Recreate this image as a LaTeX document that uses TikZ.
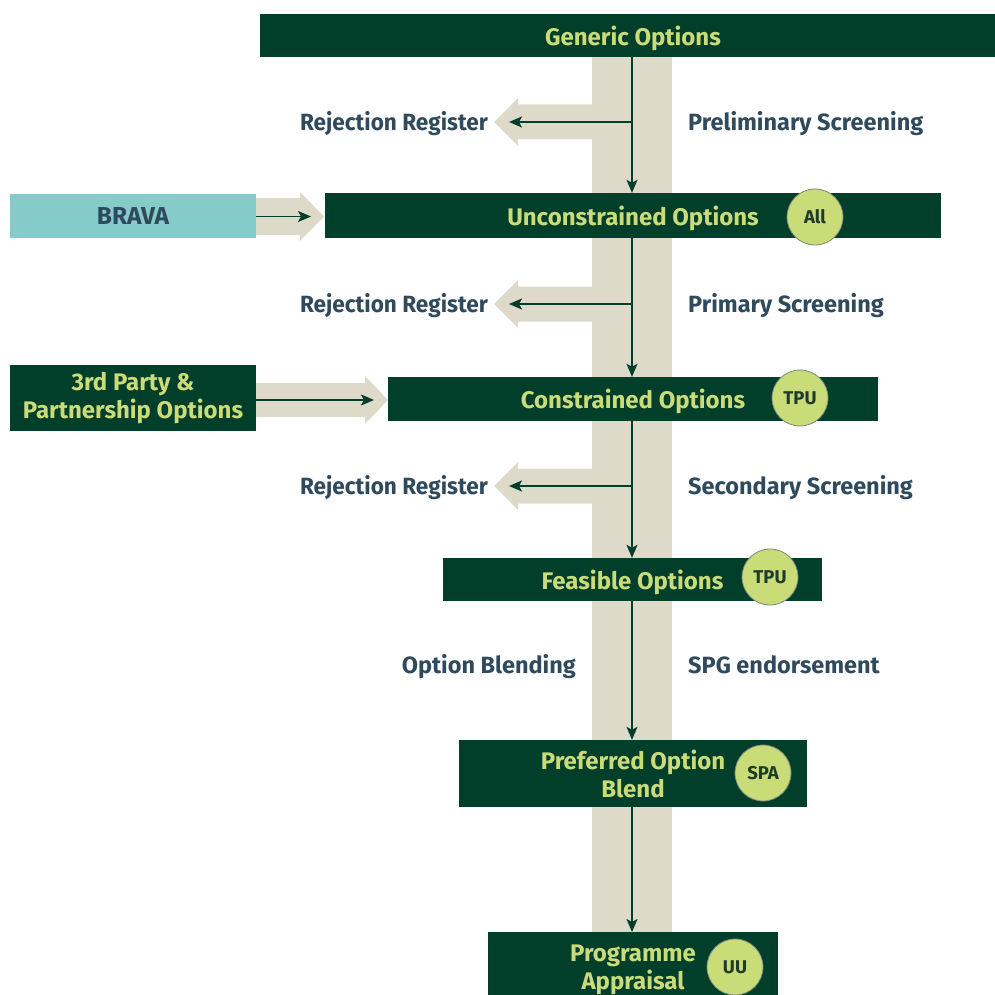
\documentclass[tikz,border=0pt]{standalone}
\usepackage{fontspec}
\setmainfont{Fira Sans}
\usetikzlibrary{arrows.meta}
\definecolor{dkgreen}{HTML}{013F2A}
\definecolor{boxtxt}{HTML}{CBDB7A}
\definecolor{lbltxt}{HTML}{2E4A5C}
\definecolor{beige}{HTML}{DEDACA}
\definecolor{teal}{HTML}{84CBCA}
\definecolor{circfill}{HTML}{C9DC77}
\definecolor{circtxt}{HTML}{1F3B2A}
\tikzset{
  stagebox/.style={rectangle, fill=dkgreen, text=boxtxt, inner sep=0pt, align=center, font=\bfseries\fontsize{24}{28}\selectfont},
  onerow/.style={text depth=0pt},
  badge/.style={circle, fill=circfill, draw=circtxt!60, line width=0.8pt, minimum size=56pt, inner sep=0pt, text=circtxt, font=\bfseries\fontsize{18.5}{18}\selectfont},
  lbl/.style={text=lbltxt, inner sep=0pt, font=\bfseries\fontsize{23.5}{24}\selectfont},
  flow/.style={draw=dkgreen, line width=1.6pt, -{Stealth[length=13pt,width=11pt,inset=3pt]}},
  band/.style={fill=beige, draw=none}
}
\begin{document}
\begin{tikzpicture}[x=1pt,y=-1pt]
\useasboundingbox (0,0) rectangle (994,995);
% beige band and beige arrows
\fill[band] (592,57) rectangle (672,932);
\foreach \yy in {122,304,486}{
  \fill[band] (592,\yy-17.5) -- (518,\yy-17.5) -- (518,\yy-24) -- (494,\yy) -- (518,\yy+24) -- (518,\yy+17.5) -- (592,\yy+17.5) -- cycle;
}
\fill[band] (256,198) -- (300,198) -- (300,192) -- (324,216.5) -- (300,241) -- (300,235) -- (256,235) -- cycle;
\fill[band] (256,383) -- (365,383) -- (365,376) -- (388,400) -- (365,424) -- (365,417) -- (256,417) -- cycle;

% boxes
\node[stagebox, onerow, minimum width=746pt, minimum height=43pt] (gen) at (633,35.5) {Generic Options};
\node[stagebox, onerow, minimum width=616pt, minimum height=45pt] (unc) at (633,215.5) {Unconstrained Options};
\node[stagebox, onerow, minimum width=490pt, minimum height=44pt] (con) at (633,399) {Constrained Options};
\node[stagebox, onerow, minimum width=379pt, minimum height=43pt] (fea) at (632.5,579.5) {Feasible Options};
\node[stagebox, minimum width=348pt, minimum height=67pt] (pre) at (633,773.5) {Preferred Option\\Blend};
\node[stagebox, minimum width=290pt, minimum height=76pt, anchor=north] (prg) at (633,932) {Programme\\Appraisal};
\node[rectangle, fill=teal, text=lbltxt, inner sep=0pt, text depth=0pt, minimum width=246pt, minimum height=44pt, font=\bfseries\fontsize{24.5}{24}\selectfont] (brava) at (133,216) {BRAVA};
\node[stagebox, minimum width=246pt, minimum height=66pt] (third) at (133,398) {3rd Party \&\\Partnership Options};

% badges
\node[badge] (b1) at (815,217) {All};
\node[badge] (b2) at (800,398) {TPU};
\node[badge] (b3) at (770,577) {TPU};
\node[badge] (b4) at (763,773) {SPA};
\node[badge] (b5) at (735,967) {UU};

% labels
\node[lbl, anchor=base east, xscale=0.96] (rj1) at (488,130.5) {Rejection Register};
\node[lbl, anchor=base east, xscale=0.96] (rj2) at (488,312.5) {Rejection Register};
\node[lbl, anchor=base east, xscale=0.96] (rj3) at (488,494.5) {Rejection Register};
\node[lbl, anchor=base west] (s1) at (688,130.5) {Preliminary Screening};
\node[lbl, anchor=base west] (s2) at (688,312.5) {Primary Screening};
\node[lbl, anchor=base west] (s3) at (688,494.5) {Secondary Screening};
\node[lbl, anchor=base east] (ob) at (576,673.5) {Option Blending};
\node[lbl, anchor=base west] (spg) at (688,673.5) {SPG endorsement};

% connector coordinates
\coordinate (j1) at (632,122);
\coordinate (j2) at (632,304);
\coordinate (j3) at (632,486);
\coordinate (t1) at (509,122);
\coordinate (t2) at (509,304);
\coordinate (t3) at (509,486);
\coordinate (bt) at (311,216.5);
\coordinate (tt) at (374,400);

% vertical flow
\draw[flow] (gen.south -| j1) -- (unc.north -| j1);
\draw[flow] (unc.south -| j1) -- (con.north -| j1);
\draw[flow] (con.south -| j1) -- (fea.north -| j1);
\draw[flow] (fea.south -| j1) -- (pre.north -| j1);
\draw[flow] (pre.south -| j1) -- (prg.north -| j1);
% rejections
\draw[flow] (j1) -- (t1);
\draw[flow] (j2) -- (t2);
\draw[flow] (j3) -- (t3);
% inputs
\draw[flow] (brava.east |- bt) -- (bt);
\draw[flow] (third.east |- tt) -- (tt);
\end{tikzpicture}
\end{document}
